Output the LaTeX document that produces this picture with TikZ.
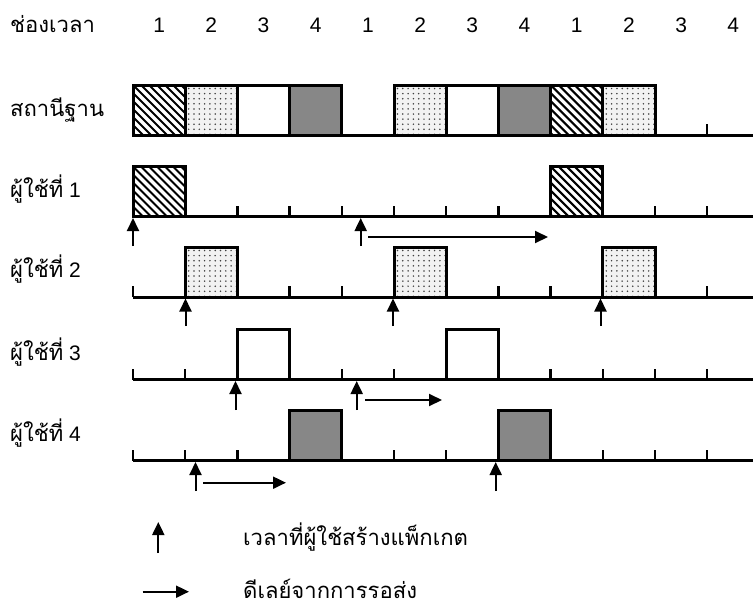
\documentclass[tikz,border=0pt]{standalone}
\usepackage{fontspec}
\setmainfont{Liberation Sans}
\newfontfamily\thaifont[Script=Thai,Scale=1.05]{Loma}
\usetikzlibrary{arrows.meta}

% slot geometry: first boundary and slot width
\newcommand\slotorigin{133}
\newcommand\slotwidth{52.2}

\tikzset{
  timeline/.style={line width=3pt},
  slottick/.style={line width=2.5pt},
  slotframe/.style={line width=3pt, line join=miter},
  hatchline/.style={line width=2pt},
  arrivearrow/.style={line width=2pt, -{Triangle[length=13pt,width=12pt]}},
  delayarrow/.style={line width=2pt, -{Triangle[length=13pt,width=12pt]}},
  txt/.style={inner sep=0pt, font=\fontsize{21}{25}\selectfont},
  rowlabel/.style={txt, anchor=base west},
  slotnum/.style={txt, anchor=base},
}

% fills for the packet boxes: #1,#2 top-left, #3,#4 bottom-right
\newcommand\fillhatch[4]{%
  \fill[white] (#1,#2) rectangle (#3,#4);
  \begin{scope}
    \clip (#1,#2) rectangle (#3,#4);
    \foreach \i in {-56,-48,...,56}
      \draw[hatchline] ({#1+\i},#2) -- ++(54,54);
  \end{scope}}
\newcommand\filldots[4]{%
  \fill[black!5] (#1,#2) rectangle (#3,#4);
  \begin{scope}
    \clip (#1,#2) rectangle (#3,#4);
    \foreach \a in {0,...,9}
      \foreach \b in {0,...,9}
        \fill[black!75] ({#1+3.5+\a*5.3},{#2+3.5+\b*5.1}) circle (0.85pt);
  \end{scope}}
\newcommand\filldark[4]{\fill[black!47] (#1,#2) rectangle (#3,#4);}
\newcommand\fillplain[4]{\fill[white] (#1,#2) rectangle (#3,#4);}

% packet box in slot #1 standing on the time line at height #2, fill kind #3
\newcommand\pktbox[3]{%
  \pgfmathsetmacro\pkL{\slotorigin+\slotwidth*#1}
  \pgfmathsetmacro\pkR{\pkL+\slotwidth}
  \pgfmathsetmacro\pkT{#2-50}
  \csname fill#3\endcsname{\pkL}{\pkT}{\pkR}{#2}
  \draw[slotframe] (\pkL,\pkT) rectangle (\pkR,#2);}

% time line at height #1 with ticks at the slot boundaries listed in #2
\newcommand\timeaxis[2]{%
  \draw[timeline] (\slotorigin,#1) -- (753,#1);
  \foreach \k in {#2}
    \draw[slottick] ({\slotorigin+\slotwidth*\k},#1) -- ++(0,-11);}

\begin{document}
\begin{tikzpicture}[x=1pt,y=-1pt]
\useasboundingbox (0,0) rectangle (753,611);

% header: slot numbers
\node[rowlabel] (hdr) at (10,32) {\thaifont ช่องเวลา};
\foreach \n [count=\j from 0] in {1,2,3,4,1,2,3,4,1,2,3,4}
  \node[slotnum] (num\j) at ({\slotorigin+\slotwidth*(\j+0.5)},32) {\n};

% base station
\node[rowlabel] (bs) at (10,116) {\thaifont สถานีฐาน};
\timeaxis{135}{11}
\pktbox{0}{135}{hatch}
\pktbox{1}{135}{dots}
\pktbox{2}{135}{plain}
\pktbox{3}{135}{dark}
\pktbox{5}{135}{dots}
\pktbox{6}{135}{plain}
\pktbox{7}{135}{dark}
\pktbox{8}{135}{hatch}
\pktbox{9}{135}{dots}

% user 1
\node[rowlabel] (u1) at (10,197) {\thaifont ผู้ใช้ที่\normalfont~1};
\timeaxis{216.5}{2,3,4,5,6,7,10,11}
\pktbox{0}{216.5}{hatch}
\pktbox{8}{216.5}{hatch}
\coordinate (u1a) at (133,246);   \coordinate (u1at) at (133,218);
\coordinate (u1b) at (360.7,246); \coordinate (u1bt) at (360.7,218);
\coordinate (u1ds) at (368,237);  \coordinate (u1de) at (548,237);
\draw[arrivearrow] (u1a) -- (u1at);
\draw[arrivearrow] (u1b) -- (u1bt);
\draw[delayarrow] (u1ds) -- (u1de);

% user 2
\node[rowlabel] (u2) at (10,277.5) {\thaifont ผู้ใช้ที่\normalfont~2};
\timeaxis{297}{0,3,4,7,8,11}
\pktbox{1}{297}{dots}
\pktbox{5}{297}{dots}
\pktbox{9}{297}{dots}
\coordinate (u2a) at (185.5,326); \coordinate (u2at) at (185.5,298.5);
\coordinate (u2b) at (393,326);   \coordinate (u2bt) at (393,298.5);
\coordinate (u2c) at (600.5,326); \coordinate (u2ct) at (600.5,298.5);
\draw[arrivearrow] (u2a) -- (u2at);
\draw[arrivearrow] (u2b) -- (u2bt);
\draw[arrivearrow] (u2c) -- (u2ct);

% user 3
\node[rowlabel] (u3) at (10,360) {\thaifont ผู้ใช้ที่\normalfont~3};
\timeaxis{379.5}{0,1,4,5,8,9,10,11}
\pktbox{2}{379.5}{plain}
\pktbox{6}{379.5}{plain}
\coordinate (u3a) at (235.5,410); \coordinate (u3at) at (235.5,381);
\coordinate (u3b) at (356.7,410); \coordinate (u3bt) at (356.7,381);
\coordinate (u3ds) at (365,400);  \coordinate (u3de) at (442,400);
\draw[arrivearrow] (u3a) -- (u3at);
\draw[arrivearrow] (u3b) -- (u3bt);
\draw[delayarrow] (u3ds) -- (u3de);

% user 4
\node[rowlabel] (u4) at (10,441) {\thaifont ผู้ใช้ที่\normalfont~4};
\timeaxis{460.5}{0,1,2,5,6,9,10,11}
\pktbox{3}{460.5}{dark}
\pktbox{7}{460.5}{dark}
\coordinate (u4a) at (195.5,491); \coordinate (u4at) at (195.5,462);
\coordinate (u4b) at (495.7,491); \coordinate (u4bt) at (495.7,462);
\coordinate (u4ds) at (203,482.7); \coordinate (u4de) at (286,482.7);
\draw[arrivearrow] (u4a) -- (u4at);
\draw[arrivearrow] (u4b) -- (u4bt);
\draw[delayarrow] (u4ds) -- (u4de);

% legend
\coordinate (lga) at (158.3,553); \coordinate (lgat) at (158.3,522);
\draw[arrivearrow] (lga) -- (lgat);
\node[rowlabel] (lgtxt1) at (243,545) {\thaifont เวลาที่ผู้ใช้สร้างแพ็กเกต};
\coordinate (lgd) at (142.7,591.7); \coordinate (lgde) at (189,591.7);
\draw[delayarrow] (lgd) -- (lgde);
\node[rowlabel] (lgtxt2) at (243,598) {\thaifont ดีเลย์จากการรอส่ง};
\end{tikzpicture}
\end{document}
